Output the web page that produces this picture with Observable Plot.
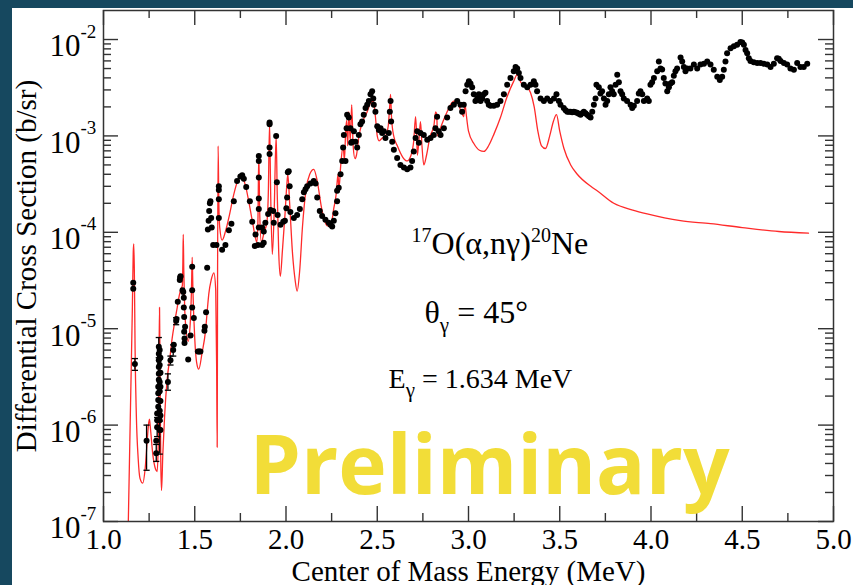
<!DOCTYPE html>
<html><head><meta charset="utf-8">
<script src="https://cdn.jsdelivr.net/npm/d3@7"></script>
<script src="https://cdn.jsdelivr.net/npm/@observablehq/plot@0.6"></script>
<style>
html,body{margin:0;padding:0;background:#16485f;width:853px;height:585px;overflow:hidden}
#chart{position:absolute;left:12px;top:8px;width:841px;height:577px;background:#fff}
</style></head><body><div id="chart"></div>
<script>
// ---- measured data points (E in MeV, differential cross section in b/sr)
const dataEnergy = [
1.163,1.163,1.172,1.236,1.289,1.289,1.294,1.294,1.294,1.300,1.300,1.300,1.300,
1.303,1.303,1.303,1.303,1.303,1.303,1.308,1.308,1.308,1.308,1.308,1.308,1.308,1.308,1.308,1.308,
1.312,1.312,1.312,1.312,1.312,1.312,1.353,1.367,1.382,1.385,1.398,1.400,1.407,1.418,1.420,1.422,
1.433,1.437,1.440,1.440,1.442,1.442,1.444,1.444,1.447,1.464,1.477,1.486,1.486,1.486,1.495,
1.517,1.524,1.531,1.553,1.555,1.562,1.568,1.572,1.576,1.579,1.583,1.586,1.590,1.593,1.601,1.619,
1.632,1.632,1.632,1.632,1.650,1.668,1.687,1.701,1.714,1.732,1.750,1.760,1.769,1.782,1.802,1.815,
1.833,1.846,1.829,1.869,1.878,1.851,1.851,1.851,1.851,1.851,1.851,1.869,1.878,1.887,1.902,
1.910,1.910,1.910,1.910,1.915,1.930,1.933,1.946,1.950,1.954,1.970,1.985,1.994,2.002,2.006,2.010,
2.015,2.020,2.024,2.043,2.061,2.076,2.089,2.098,2.107,2.116,2.134,2.152,2.162,2.171,2.185,2.198,
2.216,2.234,2.244,2.253,2.262,2.271,2.280,2.280,2.289,2.299,2.308,2.313,2.317,2.326,2.332,2.335,
2.344,2.353,2.357,2.363,2.372,2.381,2.390,2.399,2.408,2.417,2.426,2.436,2.445,2.454,2.463,2.472,
2.478,2.481,2.490,2.500,2.509,2.518,2.527,2.536,2.545,2.563,2.569,2.573,2.576,2.582,2.591,2.609,
2.627,2.646,2.664,2.682,2.691,2.700,2.710,2.719,2.728,2.737,2.755,2.774,2.792,2.810,2.819,2.828,
2.837,2.847,2.865,2.883,2.901,2.920,2.938,2.956,2.965,2.974,2.984,2.993,3.002,3.011,3.020,3.029,
3.038,3.048,3.057,3.066,3.075,3.084,3.093,3.102,3.111,3.121,3.139,3.157,3.175,3.194,3.212,3.230,
3.248,3.258,3.267,3.276,3.285,3.303,3.322,3.340,3.358,3.367,3.376,3.395,3.413,3.431,3.449,3.468,
3.482,3.495,3.504,3.522,3.532,3.541,3.550,3.559,3.568,3.577,3.586,3.595,3.604,3.614,3.623,3.632,3.641,3.650,3.660,3.669,3.678,3.687,3.696,3.701,
3.714,3.723,3.732,3.742,3.751,3.760,3.769,3.778,3.787,3.796,3.806,3.815,3.824,3.833,3.842,3.851,
3.869,3.888,3.897,3.906,3.924,3.933,3.942,3.952,3.961,3.979,3.988,3.997,4.006,4.016,4.034,4.043,
4.052,4.061,4.070,4.079,4.089,4.098,4.107,4.116,4.125,4.134,4.143,4.162,4.171,4.180,4.189,4.198,
4.216,4.235,4.253,4.271,4.290,4.308,4.326,4.344,4.363,4.377,4.390,4.399,4.408,4.417,4.436,4.454,
4.472,4.490,4.500,4.509,4.518,4.527,4.536,4.545,4.563,4.582,4.600,4.618,4.637,4.655,4.673,4.691,
4.700,4.710,4.728,4.746,4.764,4.783,4.801,4.819,4.837,4.856
];
const dataSigma = [
3.0e-5,2.6e-5,4.3e-6,6.9e-7,5.1e-7,6.9e-7,9.5e-7,1.12e-6,1.32e-6,1.55e-6,1.82e-6,2.14e-6,2.5e-6,
2.95e-6,3.4e-6,4.0e-6,4.7e-6,5.5e-6,6.5e-6,6.0e-6,5.0e-6,4.2e-6,3.5e-6,2.8e-6,2.24e-6,1.78e-6,1.41e-6,1.12e-6,8.9e-7,
5.0e-6,3.5e-6,2.5e-6,1.78e-6,1.26e-6,8.9e-7,2.8e-6,4.7e-6,6.0e-6,6.8e-6,1.2e-5,1.26e-5,1.9e-5,3.2e-5,3.4e-5,3.5e-5,
2.5e-5,2.4e-5,2.1e-5,1.66e-5,1.32e-5,9.3e-6,7.9e-6,7.1e-6,1.05e-5,4.8e-6,8.5e-6,1.66e-5,2.5e-5,4.4e-5,1.29e-5,
5.8e-6,5.8e-6,5.8e-6,9.5e-6,1.05e-5,1.48e-5,4.3e-5,1.07e-4,1.32e-4,1.66e-4,2.0e-4,2.1e-4,1.41e-4,1.12e-4,7.4e-5,7.4e-5,
3.0e-4,2.75e-4,2.2e-4,1.41e-4,6.6e-5,7.4e-5,1.05e-4,1.23e-4,2.1e-4,3.4e-4,3.8e-4,3.9e-4,3.6e-4,2.95e-4,2.1e-4,1.29e-4,
9.5e-5,7.4e-5,7.2e-5,7.4e-5,7.8e-5,6.2e-4,5.5e-4,3.7e-4,2.24e-4,1.74e-4,1.12e-4,1.12e-4,1.02e-4,1.26e-4,1.55e-4,
6.5e-4,7.6e-4,1.32e-3,1.38e-3,1.7e-4,1.66e-4,1.26e-4,1.0e-3,3.3e-4,1.51e-4,1.2e-4,1.29e-4,1.32e-4,1.78e-4,2.3e-4,4.2e-4,
4.3e-4,3.0e-4,1.62e-4,1.41e-4,1.51e-4,1.74e-4,2.2e-4,2.6e-4,2.8e-4,3.0e-4,3.2e-4,3.4e-4,3.2e-4,2.3e-4,1.66e-4,1.48e-4,
1.35e-4,1.26e-4,1.2e-4,1.15e-4,1.32e-4,1.58e-4,2.1e-4,2.7e-4,2.9e-4,4.0e-4,5.5e-4,7.6e-4,1.02e-3,5.5e-4,1.2e-3,1.66e-3,
1.55e-3,1.2e-3,8.5e-4,8.7e-4,1.12e-3,8.7e-4,7.6e-4,1.02e-3,1.32e-3,1.41e-3,1.66e-3,1.95e-3,2.1e-3,2.3e-3,2.7e-3,2.9e-3,
2.45e-3,2.1e-3,1.78e-3,1.26e-3,1.15e-3,1.2e-3,1.07e-3,1.12e-3,9.5e-4,1.07e-3,1.78e-3,2.3e-3,1.41e-3,8.7e-4,7.2e-4,5.9e-4,
5.0e-4,4.7e-4,4.5e-4,4.7e-4,5.5e-4,6.9e-4,9.5e-4,1.12e-3,8.5e-4,1.07e-3,1.02e-3,9.1e-4,9.5e-4,1.02e-3,1.2e-3,1.58e-3,
1.12e-3,1.02e-3,1.2e-3,1.55e-3,1.95e-3,2.1e-3,2.3e-3,2.1e-3,1.78e-3,2.1e-3,2.9e-3,3.4e-3,3.7e-3,3.5e-3,3.2e-3,2.7e-3,
2.3e-3,2.45e-3,2.7e-3,2.3e-3,2.45e-3,2.7e-3,2.8e-3,2.3e-3,2.1e-3,2.05e-3,2.05e-3,2.1e-3,2.3e-3,2.7e-3,3.4e-3,4.0e-3,
4.7e-3,5.2e-3,5.0e-3,4.5e-3,4.0e-3,3.4e-3,3.2e-3,3.4e-3,3.7e-3,3.4e-3,2.9e-3,2.45e-3,2.3e-3,2.45e-3,2.3e-3,2.45e-3,
2.7e-3,2.3e-3,2.1e-3,1.95e-3,1.85e-3,1.78e-3,1.78e-3,1.78e-3,1.76e-3,1.78e-3,1.76e-3,1.74e-3,1.7e-3,1.66e-3,1.72e-3,1.78e-3,1.72e-3,1.66e-3,1.6e-3,1.55e-3,1.78e-3,2.1e-3,2.45e-3,3.4e-3,
3.2e-3,2.75e-3,2.9e-3,2.45e-3,2.1e-3,2.3e-3,2.7e-3,3.2e-3,2.9e-3,2.7e-3,3.4e-3,4.3e-3,3.6e-3,2.9e-3,2.7e-3,2.45e-3,
2.3e-3,2.1e-3,1.95e-3,2.05e-3,2.3e-3,2.75e-3,2.9e-3,2.7e-3,2.3e-3,2.45e-3,2.3e-3,3.4e-3,3.6e-3,4.0e-3,4.7e-3,5.9e-3,
5.0e-3,4.9e-3,4.0e-3,3.5e-3,2.9e-3,3.2e-3,3.5e-3,3.6e-3,4.2e-3,4.7e-3,5.0e-3,6.5e-3,5.9e-3,5.2e-3,4.7e-3,5.0e-3,
5.0e-3,5.5e-3,5.0e-3,5.5e-3,5.6e-3,5.9e-3,5.5e-3,4.85e-3,4.1e-3,3.8e-3,4.1e-3,4.85e-3,5.9e-3,7.2e-3,8.1e-3,8.5e-3,
8.8e-3,9.4e-3,9.3e-3,8.8e-3,7.8e-3,7.2e-3,6.4e-3,6.0e-3,5.8e-3,5.7e-3,5.7e-3,5.6e-3,5.5e-3,5.2e-3,5.6e-3,6.4e-3,
6.3e-3,6.0e-3,5.7e-3,5.5e-3,5.0e-3,4.85e-3,5.7e-3,5.2e-3,5.2e-3,5.6e-3
];
// ---- error bars (visible only at low energy)
const errEnergy = [1.172, 1.236, 1.289, 1.294, 1.303, 1.308, 1.353, 1.367, 1.382, 1.398];
const errLow    = [3.7e-6, 3.4e-7, 4.2e-7, 7.6e-7, 5.0e-6, 5.0e-7, 2.3e-6, 4.2e-6, 5.2e-6, 1.1e-5];
const errHigh   = [4.9e-6, 1.0e-6, 6.3e-7, 1.2e-6, 8.1e-6, 1.1e-6, 3.4e-6, 5.2e-6, 6.8e-6, 1.3e-5];
// ---- R-matrix fit curve (red)
const curveEnergy = [
1.136,1.150,1.158,1.163,1.166,1.169,1.173,1.180,1.190,1.200,1.215,1.228,1.240,1.248,1.252,1.258,1.270,1.285,
1.294,1.300,1.304,1.307,1.310,1.314,1.318,1.325,1.335,1.349,1.365,1.376,1.390,1.404,1.415,1.425,1.432,1.435,
1.437,1.440,1.445,1.452,1.464,1.475,1.482,1.486,1.490,1.500,1.510,1.522,1.540,1.559,1.570,1.577,1.590,1.605,
1.615,1.620,1.623,1.625,1.628,1.632,1.637,1.650,1.670,1.690,1.710,1.730,1.754,1.775,1.800,1.820,1.840,1.846,
1.851,1.856,1.865,1.880,1.895,1.903,1.910,1.916,1.925,1.935,1.946,1.952,1.960,1.969,1.980,1.995,2.005,2.010,
2.020,2.035,2.050,2.061,2.075,2.090,2.110,2.130,2.152,2.170,2.195,2.225,2.244,2.262,2.275,2.285,2.290,2.300,
2.313,2.320,2.326,2.332,2.338,2.344,2.352,2.360,2.368,2.378,2.386,2.400,2.420,2.445,2.463,2.478,2.490,2.500,
2.510,2.527,2.545,2.560,2.568,2.573,2.578,2.590,2.610,2.640,2.664,2.685,2.700,2.710,2.716,2.720,2.730,2.737,
2.745,2.755,2.770,2.790,2.810,2.820,2.826,2.830,2.840,2.860,2.883,2.901,2.919,2.940,2.960,2.974,2.980,2.986,
3.000,3.030,3.060,3.084,3.110,3.140,3.175,3.210,3.248,3.266,3.290,3.322,3.340,3.360,3.380,3.400,3.422,3.445,
3.465,3.482,3.500,3.523,3.560,3.596,3.670,3.705,3.796,3.900,3.979,4.161,4.326,4.500,4.700,4.863
];
const curveSigma = [
1.0e-7,2.5e-6,1.58e-5,6.3e-5,7.6e-5,4.0e-5,6.3e-6,1.26e-6,4.5e-7,2.8e-7,2.5e-7,3.5e-7,7.1e-7,1.07e-6,1.15e-6,8.9e-7,5.0e-7,3.5e-7,
3.3e-7,6.3e-7,4.0e-6,1.66e-5,3.2e-6,4.0e-7,2.1e-7,5.0e-7,1.26e-6,3.0e-6,5.2e-6,7.9e-6,1.17e-5,1.66e-5,2.2e-5,2.6e-5,2.8e-5,5.0e-5,
9.5e-5,4.0e-5,1.58e-5,1.0e-5,7.4e-6,1.12e-5,2.5e-5,5.5e-5,2.5e-5,7.9e-6,4.5e-6,3.8e-6,5.6e-6,9.5e-6,1.66e-5,2.3e-5,3.2e-5,3.8e-5,
2.5e-5,4.0e-6,5.9e-7,3.2e-5,7.9e-4,2.0e-4,1.12e-4,8.3e-5,1.05e-4,1.51e-4,2.3e-4,3.2e-4,3.8e-4,3.2e-4,1.9e-4,1.17e-4,7.9e-5,1.26e-4,
6.5e-4,1.58e-4,7.9e-5,1.0e-4,1.26e-4,2.5e-4,1.35e-3,2.5e-4,5.9e-5,1.58e-4,1.0e-3,2.5e-4,6.3e-5,3.5e-5,6.3e-5,1.58e-4,3.2e-4,4.0e-4,
2.0e-4,6.3e-5,3.2e-5,2.45e-5,4.0e-5,1.12e-4,2.8e-4,4.0e-4,4.5e-4,3.5e-4,1.78e-4,1.17e-4,1.15e-4,1.78e-4,2.5e-4,4.0e-4,2.8e-4,5.0e-4,
7.9e-4,5.6e-4,1.0e-3,1.45e-3,7.9e-4,1.78e-3,8.9e-4,2.1e-3,7.9e-4,5.8e-4,6.3e-4,1.0e-3,1.41e-3,1.78e-3,2.2e-3,2.3e-3,1.58e-3,1.0e-3,
8.9e-4,9.5e-4,1.0e-3,1.26e-3,2.0e-3,2.7e-3,1.58e-3,1.0e-3,7.9e-4,6.0e-4,5.5e-4,6.3e-4,8.9e-4,1.58e-3,1.0e-3,6.3e-4,1.0e-3,1.41e-3,
7.9e-4,5.0e-4,6.3e-4,1.0e-3,1.26e-3,1.78e-3,1.66e-3,1.0e-3,1.12e-3,1.41e-3,1.78e-3,2.1e-3,2.3e-3,2.2e-3,1.78e-3,1.58e-3,2.2e-3,1.78e-3,
1.12e-3,8.3e-4,7.1e-4,6.9e-4,7.9e-4,1.05e-3,1.55e-3,2.5e-3,3.7e-3,4.3e-3,3.5e-3,3.2e-3,2.8e-3,2.0e-3,1.12e-3,7.9e-4,7.4e-4,1.0e-3,
1.41e-3,1.66e-3,1.12e-3,7.4e-4,5.0e-4,4.0e-4,3.0e-4,2.7e-4,2.0e-4,1.7e-4,1.55e-4,1.32e-4,1.23e-4,1.12e-4,1.02e-4,9.8e-5
];
// ---- axes
const xMajorTicks = [1.0, 1.5, 2.0, 2.5, 3.0, 3.5, 4.0, 4.5, 5.0];
const xTickLabels = ["1.0", "1.5", "2.0", "2.5", "3.0", "3.5", "4.0", "4.5", "5.0"];
const xMinorTicks = [1.25, 1.75, 2.25, 2.75, 3.25, 3.75, 4.25, 4.75];
const yMajorTicks = [1e-7, 1e-6, 1e-5, 1e-4, 1e-3, 1e-2];
const yTickExponents = ["-7", "-6", "-5", "-4", "-3", "-2"];
const yMinorMantissas = [2, 3, 4, 5, 6, 7, 8, 9];
const xLabel = "Center of Mass Energy (MeV)";
const yLabel = "Differential Cross Section (b/sr)";
// ---- annotations (anchor in data units, left/baseline)
const noteEnergy = [2.688, 2.759, 2.562];
const noteSigma = [6.0e-5, 1.15e-5, 2.4e-6];
const noteSize = [32, 32, 28];
const noteParts = [
  [["17", "sup"], ["O(α,nγ)", ""], ["20", "sup"], ["Ne", ""]],
  [["θ", ""], ["γ", "sub"], [" = 45°", ""]],
  [["E", ""], ["γ", "sub"], [" = 1.634 MeV", ""]]
];
const prelimText = ["Preliminary"];
const prelimEnergy = [3.115];
const prelimSigma = [1.95e-7];

// build tables
const points = dataEnergy.map((e, i) => ({E: e, s: dataSigma[i]}));
const fit = curveEnergy.map((e, i) => ({E: e, s: curveSigma[i]}));
const errs = errEnergy.map((e, i) => ({E: e, lo: errLow[i], hi: errHigh[i]}));
const caps = errs.flatMap(d => [{E: d.E, s: d.lo}, {E: d.E, s: d.hi}]);
const yMinorTicks = [];
for (let k = 0; k < yMajorTicks.length - 1; k++) for (const m of yMinorMantissas) yMinorTicks.push(m * yMajorTicks[k]);
const notes = noteEnergy.map((e, i) => ({E: e, s: noteSigma[i], size: noteSize[i], text: noteParts[i].map(p => p[0]).join(""), parts: noteParts[i]}));

const W = 841, H = 577;
const mL = 91, mR = 20, mT = 2, mB = 64;
const fw = W - mL - mR, fh = H - mT - mB;
const majorLen = 15, minorLen = 8;
const axisColor = "#333";
const capSymbol = {draw(ctx, size) { const w = Math.sqrt(size) / 2; ctx.moveTo(-w, 0); ctx.lineTo(w, 0); }};

const svg = Plot.plot({
  width: W, height: H,
  marginLeft: mL, marginRight: mR, marginTop: mT, marginBottom: mB,
  style: {fontFamily: "'Liberation Serif', 'Times New Roman', serif", fontSize: "30px", background: "#fff", color: "#000", overflow: "visible"},
  x: {domain: [1, 5], axis: null},
  y: {type: "log", domain: [1e-7, 0.02], axis: null},
  marks: [
    Plot.line(fit, {x: "E", y: "s", stroke: "#ff2a2a", strokeWidth: 1.3, curve: "monotone-x", clip: true}),
    Plot.ruleX(errs, {x: "E", y1: "lo", y2: "hi", stroke: "#000", strokeWidth: 1.3}),
    Plot.dot(caps, {x: "E", y: "s", symbol: capSymbol, r: 3.5, stroke: "#000", strokeWidth: 1.3, fill: "none"}),
    Plot.dot(points, {x: "E", y: "s", r: 3.0, fill: "#000", stroke: "none"}),
    // ticks (inward, mirrored)
    Plot.ruleX(xMajorTicks, {x: d => d, insetTop: fh - majorLen, stroke: axisColor, strokeWidth: 1.4}),
    Plot.ruleX(xMajorTicks, {x: d => d, insetBottom: fh - majorLen, stroke: axisColor, strokeWidth: 1.4}),
    Plot.ruleX(xMinorTicks, {x: d => d, insetTop: fh - minorLen, stroke: axisColor, strokeWidth: 1.4}),
    Plot.ruleX(xMinorTicks, {x: d => d, insetBottom: fh - minorLen, stroke: axisColor, strokeWidth: 1.4}),
    Plot.ruleY(yMajorTicks, {y: d => d, insetRight: fw - majorLen, stroke: axisColor, strokeWidth: 1.4}),
    Plot.ruleY(yMajorTicks, {y: d => d, insetLeft: fw - majorLen, stroke: axisColor, strokeWidth: 1.4}),
    Plot.ruleY(yMinorTicks, {y: d => d, insetRight: fw - minorLen, stroke: axisColor, strokeWidth: 1.4}),
    Plot.ruleY(yMinorTicks, {y: d => d, insetLeft: fw - minorLen, stroke: axisColor, strokeWidth: 1.4}),
    Plot.frame({stroke: axisColor, strokeWidth: 1.5}),
    // tick labels
    Plot.text(xMajorTicks, {x: d => d, frameAnchor: "bottom", text: xTickLabels, lineAnchor: "top", dy: 7, fontSize: 29}),
    Plot.text(yMajorTicks, {y: d => d, frameAnchor: "left", text: () => "10", textAnchor: "end", dx: -23, dy: 7, fontSize: 31}),
    Plot.text(yMajorTicks, {y: d => d, frameAnchor: "left", text: yTickExponents, textAnchor: "start", dx: -23, dy: -8, fontSize: 19}),
    // axis labels
    Plot.text([xLabel], {frameAnchor: "bottom", textAnchor: "middle", lineAnchor: "bottom", dy: 59, fontSize: 29}),
    Plot.text([yLabel], {frameAnchor: "left", textAnchor: "middle", rotate: -90, lineAnchor: "bottom", dx: -68, fontSize: 29}),
    // annotations
    Plot.text(notes, {x: "E", y: "s", text: "text", fontSize: "size", textAnchor: "start", lineAnchor: "bottom"}),
    Plot.text(prelimText, {x: prelimEnergy, y: prelimSigma, textAnchor: "middle", lineAnchor: "bottom",
      fontFamily: "'Open Sans', sans-serif", fontWeight: 700, fontSize: 82, fill: "#f2dd38"})
  ]
});

// rich text: superscripts / subscripts in the annotations
const rich = new Map(notes.map(n => [n.text, n.parts]));
d3.select(svg).selectAll("text").each(function() {
  const parts = rich.get(this.textContent);
  if (!parts) return;
  const sel = d3.select(this);
  sel.text(null);
  let shift = 0;
  for (const [s, kind] of parts) {
    const target = kind === "sup" ? -12 : kind === "sub" ? 9 : 0;
    const t = sel.append("tspan").attr("dy", target - shift).text(s);
    if (kind) t.attr("font-size", kind === "sup" ? 20 : 21);
    shift = target;
  }
});
document.getElementById("chart").appendChild(svg);
</script></body></html>
